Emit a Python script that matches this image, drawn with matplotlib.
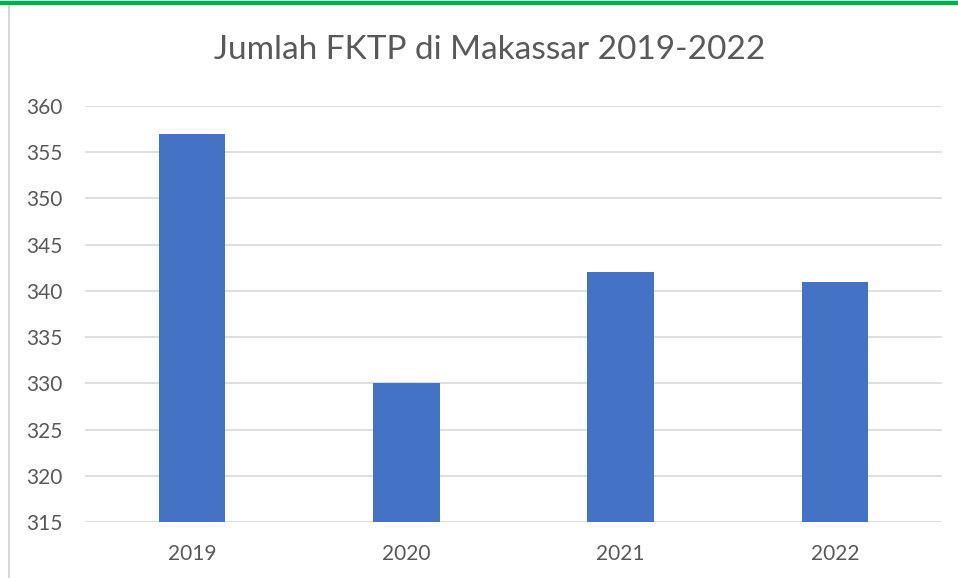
import matplotlib
matplotlib.use("Agg")
import matplotlib.pyplot as plt
from matplotlib.lines import Line2D

years = ["2019", "2020", "2021", "2022"]
values = [357, 330, 342, 341]
yticks = [315, 320, 325, 330, 335, 340, 345, 350, 355, 360]
title = "Jumlah FKTP di Makassar 2019-2022"

plt.rcParams['font.family'] = ['Lato', 'DejaVu Sans']

W, H = 958, 578
fig = plt.figure(figsize=(W / 100, H / 100), dpi=100)
fig.patch.set_facecolor("white")

# top green band and left border
fig.add_artist(Line2D([0, 1], [1 - 3 / H, 1 - 3 / H], transform=fig.transFigure,
                      color="#00B050", linewidth=3.2))
fig.add_artist(Line2D([8.5 / W, 8.5 / W], [0, 1 - 6 / H], transform=fig.transFigure,
                      color="#d0d0d0", linewidth=1.2))

ax = fig.add_axes([85 / W, 1 - 522 / H, (942 - 85) / W, (522 - 106) / H])
x = list(range(len(years)))
ax.bar(x, values, width=0.31, color="#4472C4", zorder=3)
ax.set_xlim(-0.5, len(years) - 0.5)
ax.set_ylim(315, 360)
ax.set_yticks(yticks)
ax.set_xticks(x)
ax.set_xticklabels(years)
ax.grid(axis="y", color="#d9d9d9", linewidth=1.2, zorder=0)
for s in ax.spines.values():
    s.set_visible(False)
ax.tick_params(axis="both", length=0, labelsize=15, labelcolor="#595959")
ax.tick_params(axis="x", pad=16)
ax.tick_params(axis="y", pad=16)

fig.text(490 / W, 1 - 50 / H, title, ha="center", va="center",
         fontsize=24, color="#595959")

fig.savefig("out.png", dpi=100, facecolor="white")
